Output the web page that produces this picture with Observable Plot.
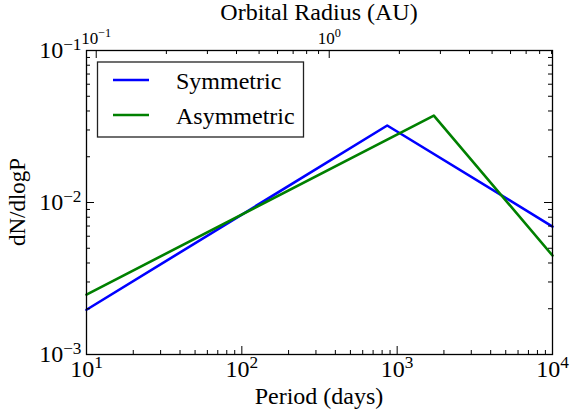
<!DOCTYPE html>
<html><head><meta charset="utf-8">
<script src="https://cdn.jsdelivr.net/npm/d3@7"></script>
<script src="https://cdn.jsdelivr.net/npm/@observablehq/plot@0.6"></script>
<style>
body{margin:0;background:#fff;}
#chart{position:relative;width:570px;height:412px;}
</style></head><body><div id="chart"></div>
<script>
// ---- data ----
const seriesNames = ["Symmetric", "Asymmetric"];
const seriesColors = ["#0000ff", "#008000"];
const symPeriod = [10, 863, 10000];
const symValue = [0.00197, 0.0321, 0.00695];
const asymPeriod = [10, 1722, 10000];
const asymValue = [0.00248, 0.0373, 0.00448];
const xMajor = [10, 100, 1000, 10000];
const xMinor = [20,30,40,50,60,70,80,90,200,300,400,500,600,700,800,900,2000,3000,4000,5000,6000,7000,8000,9000];
const yMajor = [0.001, 0.01, 0.1];
const yMinor = [0.002,0.003,0.004,0.005,0.006,0.007,0.008,0.009,0.02,0.03,0.04,0.05,0.06,0.07,0.08,0.09];
const auMajor = [0.1, 1];
const auMinor = [0.2,0.3,0.4,0.5,0.6,0.7,0.8,0.9,2,3,4,5,6,7,8,9];
const daysPerYear = 365.25;

const rows = [
  ...symPeriod.map((p, i) => ({series: seriesNames[0], P: p, v: symValue[i]})),
  ...asymPeriod.map((p, i) => ({series: seriesNames[1], P: p, v: asymValue[i]}))
];
const auToP = a => daysPerYear * Math.pow(a, 1.5);

const W = 570, H = 412, mL = 86, mR = 18, mT = 50, mB = 58;
const fw = W - mL - mR, fh = H - mT - mB;
const FONT = "Liberation Serif, Times New Roman, serif";
const exp = v => "10^" + String(Math.round(Math.log10(v))).replace("-", "\u2212");

const plot = Plot.plot({
  width: W, height: H,
  marginLeft: mL, marginRight: mR, marginTop: mT, marginBottom: mB,
  style: {fontFamily: FONT, color: "black", background: "white"},
  x: {type: "log", domain: [10, 10000]},
  y: {type: "log", domain: [0.001, 0.1]},
  color: {domain: seriesNames, range: seriesColors},
  marks: [
    Plot.line(rows, {x: "P", y: "v", stroke: "series", strokeWidth: 2.6, z: "series"}),
    // inward ticks
    Plot.tickX(xMajor, {x: d => d, insetTop: fh - 8, stroke: "black"}),
    Plot.tickX(xMinor, {x: d => d, insetTop: fh - 4, stroke: "black"}),
    Plot.tickX(auMajor, {x: auToP, insetBottom: fh - 8, stroke: "black"}),
    Plot.tickX(auMinor, {x: auToP, insetBottom: fh - 4, stroke: "black"}),
    Plot.tickY(yMajor, {y: d => d, insetRight: fw - 8, stroke: "black"}),
    Plot.tickY(yMinor, {y: d => d, insetRight: fw - 4, stroke: "black"}),
    Plot.tickY(yMajor, {y: d => d, insetLeft: fw - 8, stroke: "black"}),
    Plot.tickY(yMinor, {y: d => d, insetLeft: fw - 4, stroke: "black"}),
    Plot.axisX(xMajor, {anchor: "bottom", tickSize: 0, tickPadding: 5, fontSize: 24, label: null,
      tickFormat: exp}),
    Plot.text(auMajor, {x: auToP, frameAnchor: "top", lineAnchor: "bottom", dy: -7, fontSize: 17,
      text: a => exp(a)}),
    Plot.axisY(yMajor, {anchor: "left", tickSize: 0, tickPadding: 5, fontSize: 24, label: null,
      tickFormat: exp}),
    Plot.frame({stroke: "black", strokeWidth: 1.3})
  ]
});

// superscript formatting of tick labels
d3.select(plot).selectAll("text").each(function() {
  const t = this.textContent;
  if (!t.includes("^")) return;
  const [base, e] = t.split("^");
  const s = d3.select(this);
  s.text(null);
  s.append("tspan").text(base);
  s.append("tspan").attr("dy", "-0.5em").attr("font-size", "0.72em").text(e);
});

const svg = d3.select(plot);
// axis titles
svg.append("text").attr("x", mL + fw / 2).attr("y", 20).attr("text-anchor", "middle")
  .attr("font-size", 24).attr("font-family", FONT).text("Orbital Radius (AU)");
svg.append("text").attr("x", mL + fw / 2).attr("y", 404).attr("text-anchor", "middle")
  .attr("font-size", 24).attr("font-family", FONT).text("Period (days)");
svg.append("text").attr("transform", `translate(25,${mT + fh / 2}) rotate(-90)`).attr("text-anchor", "middle")
  .attr("font-size", 23).attr("font-family", FONT).text("dN/dlogP");

// legend
const lg = svg.append("g");
lg.append("rect").attr("x", 97.5).attr("y", 62).attr("width", 206).attr("height", 75)
  .attr("fill", "white").attr("stroke", "#222").attr("stroke-width", 1.3);
seriesNames.forEach((n, i) => {
  const yy = 80 + i * 35;
  lg.append("line").attr("x1", 113).attr("x2", 149).attr("y1", yy).attr("y2", yy)
    .attr("stroke", seriesColors[i]).attr("stroke-width", 2.6);
  lg.append("text").attr("x", 176).attr("y", yy + 9).attr("text-anchor", "start")
    .attr("font-size", 24).attr("font-family", FONT).text(n);
});

document.getElementById("chart").appendChild(plot);
</script></body></html>
